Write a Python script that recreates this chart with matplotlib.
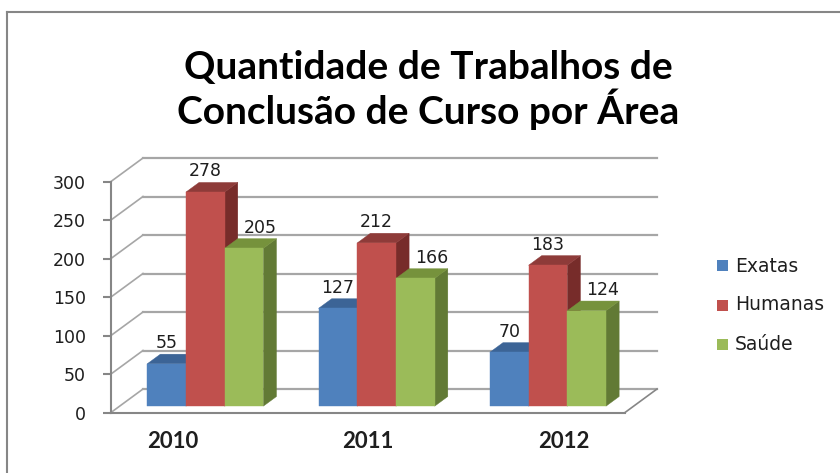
import matplotlib
matplotlib.use('Agg')
import matplotlib.pyplot as plt
from matplotlib.patches import Polygon, Rectangle
from matplotlib.lines import Line2D

# ---------------- data ----------------
years = ['2010', '2011', '2012']
series_names = ['Exatas', 'Humanas', 'Saúde']
exatas = [55, 127, 70]
humanas = [278, 212, 183]
saude = [205, 166, 124]
y_ticks = [0, 50, 100, 150, 200, 250, 300]
title_lines = ['Quantidade de Trabalhos de', 'Conclusão de Curso por Área']

# ---------------- style ----------------
front_cols = ['#4F81BD', '#C0504D', '#9BBB59']
top_cols = ['#3C6496', '#8E3B39', '#76923C']
side_cols = ['#385D8A', '#772C2A', '#627A35']
axis_col = '#868686'
grid_col = '#A6A6A6'
text_col = '#1E1E1E'

W, H = 840, 473
fig = plt.figure(figsize=(W / 100, H / 100), dpi=100)
fig.patch.set_facecolor('white')


def fx(px):
    return px / W


def fy(py):
    return 1 - py / H


# outer chart frame (only top and left visible in the crop)
fig.add_artist(Line2D([fx(7), fx(7)], [fy(12), 0], color=axis_col, lw=1.5,
                      transform=fig.transFigure))
fig.add_artist(Line2D([fx(7), 1], [fy(12), fy(12)], color=axis_col, lw=1.5,
                      transform=fig.transFigure))

# front plane axes
x_left, x_right = 111, 625
y_zero, y_top = 412.5, 181.5
ax = fig.add_axes([fx(x_left), fy(y_zero), (x_right - x_left) / W, (y_zero - y_top) / H])
ax.set_xlim(0, 3)
ax.set_ylim(0, 300)
ax.patch.set_visible(False)

px_per_x = (x_right - x_left) / 3.0
px_per_y = (y_zero - y_top) / 300.0
DX = 32 / px_per_x          # full depth offset (data units)
DY = 23.5 / px_per_y

for s in ['top', 'right']:
    ax.spines[s].set_visible(False)
for s in ['left', 'bottom']:
    ax.spines[s].set_color(axis_col)
    ax.spines[s].set_linewidth(1.5)

ax.set_yticks(y_ticks)
ax.set_yticklabels([str(t) for t in y_ticks])
ax.tick_params(axis='y', length=8 * 0.72, width=1.5, color=axis_col,
               pad=17 * 0.72, labelsize=12.5, labelcolor=text_col)
ax.set_xticks([])

# walls: back gridlines, side diagonals, right floor edge
for t in y_ticks:
    ax.add_line(Line2D([DX, 3 + DX], [t + DY, t + DY], color=grid_col, lw=1.6,
                       clip_on=False, zorder=1))
    ax.add_line(Line2D([0, DX], [t, t + DY], color=grid_col, lw=1.2,
                       clip_on=False, zorder=1))
ax.add_line(Line2D([3, 3 + DX], [0, DY], color=axis_col, lw=1.2, clip_on=False, zorder=1))

# 3D bars
series = [exatas, humanas, saude]
label_shift_px = [0, 0, 16]   # Excel nudges the third series' labels right
w = 38.7 / px_per_x
fb = 0.27   # depth fraction of bar front face
d = 0.41    # depth fraction of bar thickness
z = 3
for i in range(len(years)):
    for j, vals in enumerate(series):
        v = vals[i]
        x0 = i + 0.5 + (j - 1.5) * w + fb * DX
        y0 = fb * DY
        ddx, ddy = d * DX, d * DY
        front = Polygon([(x0, y0), (x0 + w, y0), (x0 + w, y0 + v), (x0, y0 + v)],
                        closed=True, facecolor=front_cols[j], edgecolor=front_cols[j],
                        lw=0.3, clip_on=False, zorder=z)
        top = Polygon([(x0, y0 + v), (x0 + w, y0 + v), (x0 + w + ddx, y0 + v + ddy),
                       (x0 + ddx, y0 + v + ddy)],
                      closed=True, facecolor=top_cols[j], edgecolor=top_cols[j],
                      lw=0.3, clip_on=False, zorder=z)
        side = Polygon([(x0 + w, y0), (x0 + w + ddx, y0 + ddy), (x0 + w + ddx, y0 + v + ddy),
                        (x0 + w, y0 + v)],
                       closed=True, facecolor=side_cols[j], edgecolor=side_cols[j],
                       lw=0.3, clip_on=False, zorder=z)
        ax.add_patch(side)
        ax.add_patch(top)
        ax.add_patch(front)
        z += 1
        ax.text(x0 + w / 2 + label_shift_px[j] / px_per_x, y0 + v + ddy + 6 / px_per_y,
                str(v), ha='center', va='baseline', fontsize=12.5, color=text_col,
                zorder=20, clip_on=False)

# category labels
for i, yr in enumerate(years):
    ax.text(1.5 + (i - 1) * 1.14, -(448 - y_zero) / px_per_y, yr, ha='center',
            va='baseline', fontsize=16, fontweight='bold', family='Lato',
            color=text_col, clip_on=False)

# legend
leg_y = [266, 305, 344]
for k, name in enumerate(series_names):
    fig.add_artist(Rectangle((fx(717), fy(leg_y[k] + 5.5)), 11 / W, 11 / H,
                             facecolor=front_cols[k], edgecolor='none',
                             transform=fig.transFigure))
    fig.text(fx(735), fy(leg_y[k]), name, ha='left', va='center', fontsize=13.5,
             color=text_col)

# title
fig.text(fx(428), fy(79), title_lines[0], ha='center', va='baseline', fontsize=28,
         fontweight='bold', family='Lato', color='black')
fig.text(fx(428), fy(124), title_lines[1], ha='center', va='baseline', fontsize=28,
         fontweight='bold', family='Lato', color='black')

fig.savefig('out.png', dpi=100)
